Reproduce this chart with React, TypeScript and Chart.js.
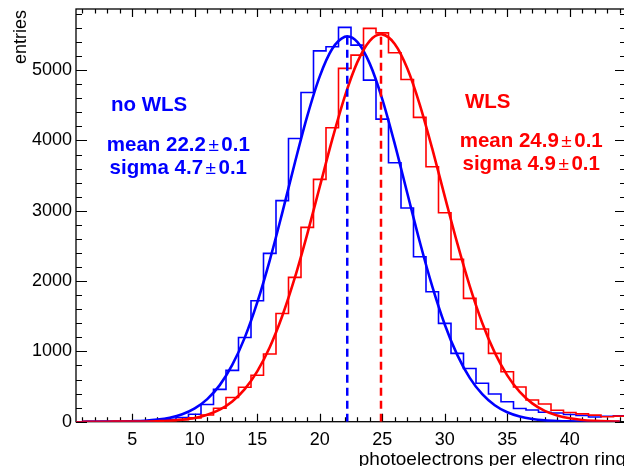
import React, { useEffect, useRef } from "react";
import { Chart, registerables } from "chart.js";

Chart.register(...registerables);

// ---- data ----
const binCenters = [1, 2, 3, 4, 5, 6, 7, 8, 9, 10, 11, 12, 13, 14, 15, 16, 17, 18, 19, 20, 21, 22, 23, 24, 25, 26, 27, 28, 29, 30, 31, 32, 33, 34, 35, 36, 37, 38, 39, 40, 41, 42, 43, 44];
const noWlsCounts = [0, 0, 1, 2, 4, 8, 15, 34, 60, 107, 245, 460, 730, 1197, 1721, 2394, 3145, 4029, 4683, 5275, 5332, 5608, 5356, 4858, 4304, 3683, 3040, 2346, 1848, 1399, 972, 756, 546, 395, 284, 188, 166, 135, 124, 102, 88, 66, 78, 85];
const wlsCounts = [0, 0, 0, 1, 2, 4, 8, 15, 28, 55, 95, 192, 345, 490, 660, 963, 1540, 2053, 2764, 3446, 4180, 5025, 5214, 5594, 5531, 5247, 4868, 4328, 3626, 2972, 2309, 1754, 1318, 972, 711, 494, 308, 252, 162, 130, 112, 93, 71, 80];

const fitX = [1, 2, 3, 4, 5, 6, 7, 8, 9, 10, 11, 12, 13, 14, 15, 16, 17, 18, 19, 20, 21, 22, 23, 24, 25, 26, 27, 28, 29, 30, 31, 32, 33, 34, 35, 36, 37, 38, 39, 40, 41, 42, 43, 44];
const noWlsFit = [0, 1, 1, 3, 7, 14, 29, 57, 106, 189, 321, 520, 807, 1196, 1696, 2296, 2971, 3676, 4346, 4912, 5304, 5475, 5401, 5093, 4589, 3952, 3253, 2559, 1924, 1383, 950, 623, 391, 234, 134, 74, 39, 19, 9, 4, 2, 1, 0, 0];
const wlsFit = [0, 0, 0, 1, 1, 3, 7, 14, 29, 54, 99, 172, 289, 464, 716, 1059, 1503, 2044, 2669, 3342, 4015, 4625, 5111, 5418, 5509, 5373, 5027, 4511, 3883, 3206, 2539, 1929, 1405, 982, 659, 424, 261, 154, 88, 48, 25, 13, 6, 3];

const noWlsMean = 22.2;
const noWlsMeanErr = 0.1;
const noWlsSigma = 4.7;
const noWlsSigmaErr = 0.1;
const noWlsPeak = 5480;

const wlsMean = 24.9;
const wlsMeanErr = 0.1;
const wlsSigma = 4.9;
const wlsSigmaErr = 0.1;
const wlsPeak = 5510;

const xTickLabels = [5, 10, 15, 20, 25, 30, 35, 40];
const yTickLabels = [0, 1000, 2000, 3000, 4000, 5000];

const X_MIN = 0.5;
const X_MAX = 44.5;
const Y_MAX = 5870;

const BLUE = "#0000ff";
const RED = "#ff0000";
const FAMILY = '"Liberation Sans", Arial, Helvetica, sans-serif';

// histogram outline: left edges + closing right edge
function histPoints(centers: number[], counts: number[]) {
  const pts = centers.map((c, i) => ({ x: c - 0.5, y: counts[i] }));
  const last = centers.length - 1;
  pts.push({ x: centers[last] + 0.5, y: counts[last] });
  return pts;
}

function fitPoints(xs: number[], ys: number[], mean: number, peak: number) {
  const pts = xs.map((x, i) => ({ x, y: ys[i] }));
  pts.push({ x: mean, y: peak });
  pts.sort((a, b) => a.x - b.x);
  return pts;
}

function statRow(
  ctx: CanvasRenderingContext2D,
  label: string,
  value: number,
  err: number,
  cx: number,
  baseline: number,
  color: string
) {
  const bold = `bold 20.5px ${FAMILY}`;
  const pm = `19px ${FAMILY}`;
  const t1 = `${label} ${value.toFixed(1)}`;
  const t3 = err.toFixed(1);
  ctx.font = bold;
  const w1 = ctx.measureText(t1).width;
  const w3 = ctx.measureText(t3).width;
  ctx.font = pm;
  const w2 = ctx.measureText("\u00b1").width;
  const gap = 2.5;
  const total = w1 + gap + w2 + gap + w3;
  let x0 = cx - total / 2;
  ctx.fillStyle = color;
  ctx.textAlign = "left";
  ctx.textBaseline = "alphabetic";
  ctx.font = bold;
  ctx.fillText(t1, x0, baseline);
  x0 += w1 + gap;
  ctx.font = pm;
  ctx.fillText("\u00b1", x0, baseline);
  x0 += w2 + gap;
  ctx.font = bold;
  ctx.fillText(t3, x0, baseline);
}

const decorPlugin = {
  id: "decor",
  beforeDatasetsDraw(chart: any) {
    const { ctx, chartArea: a, scales } = chart;
    const x = scales.x;
    const y = scales.y;
    ctx.save();
    ctx.strokeStyle = "#000";
    ctx.lineWidth = 1.2;
    ctx.beginPath();
    // x ticks (top & bottom, inward)
    for (let v = Math.ceil(X_MIN); v <= X_MAX; v += 1) {
      const px = Math.round(x.getPixelForValue(v)) + 0.5;
      const len = v % 5 === 0 ? 8 : 4.5;
      ctx.moveTo(px, a.bottom);
      ctx.lineTo(px, a.bottom - len);
      ctx.moveTo(px, a.top);
      ctx.lineTo(px, a.top + len);
    }
    // y ticks (left & right, inward)
    for (let v = 0; v <= Y_MAX; v += 200) {
      const py = Math.round(y.getPixelForValue(v)) + 0.5;
      const len = v % 1000 === 0 ? 11 : 6;
      ctx.moveTo(a.left, py);
      ctx.lineTo(a.left + len, py);
      ctx.moveTo(a.right, py);
      ctx.lineTo(a.right - len, py);
    }
    ctx.stroke();
    ctx.lineWidth = 1.3;
    ctx.strokeRect(a.left, a.top, a.right - a.left, a.bottom - a.top);
    ctx.restore();
  },
  afterDraw(chart: any) {
    const { ctx, chartArea: a } = chart;
    ctx.save();
    // axis titles
    ctx.fillStyle = "#000";
    ctx.font = `19px ${FAMILY}`;
    ctx.textAlign = "right";
    ctx.textBaseline = "alphabetic";
    ctx.fillText("photoelectrons per electron ring", a.right, 464.5);

    ctx.save();
    ctx.translate(25.5, a.top + 1);
    ctx.rotate(-Math.PI / 2);
    ctx.font = `18px ${FAMILY}`;
    ctx.textAlign = "right";
    ctx.fillText("entries", 0, 0);
    ctx.restore();

    // annotations
    ctx.textAlign = "left";
    ctx.font = `bold 20.5px ${FAMILY}`;
    ctx.fillStyle = BLUE;
    ctx.fillText("no WLS", 111, 110.7);
    statRow(ctx, "mean", noWlsMean, noWlsMeanErr, 178.3, 151, BLUE);
    statRow(ctx, "sigma", noWlsSigma, noWlsSigmaErr, 178.3, 174.3, BLUE);

    ctx.textAlign = "left";
    ctx.font = `bold 20.5px ${FAMILY}`;
    ctx.fillStyle = RED;
    ctx.fillText("WLS", 465, 108);
    statRow(ctx, "mean", wlsMean, wlsMeanErr, 531.2, 146.7, RED);
    statRow(ctx, "sigma", wlsSigma, wlsSigmaErr, 531.2, 170, RED);
    ctx.restore();
  },
};

export default function App() {
  const canvasRef = useRef<HTMLCanvasElement | null>(null);

  useEffect(() => {
    const canvas = canvasRef.current;
    if (!canvas) return;
    const tickFont = { family: FAMILY, size: 18 };
    const chart = new Chart(canvas, {
      type: "line",
      data: {
        datasets: [
          {
            label: "no WLS",
            data: histPoints(binCenters, noWlsCounts),
            borderColor: BLUE,
            borderWidth: 1.6,
            stepped: "before",
            pointRadius: 0,
            fill: false,
            order: 5,
          },
          {
            label: "WLS",
            data: histPoints(binCenters, wlsCounts),
            borderColor: RED,
            borderWidth: 1.6,
            stepped: "before",
            pointRadius: 0,
            fill: false,
            order: 4,
          },
          {
            label: "no WLS fit",
            data: fitPoints(fitX, noWlsFit, noWlsMean, noWlsPeak),
            borderColor: BLUE,
            borderWidth: 2.6,
            cubicInterpolationMode: "monotone",
            pointRadius: 0,
            fill: false,
            order: 3,
          },
          {
            label: "WLS fit",
            data: fitPoints(fitX, wlsFit, wlsMean, wlsPeak),
            borderColor: RED,
            borderWidth: 2.6,
            cubicInterpolationMode: "monotone",
            pointRadius: 0,
            fill: false,
            order: 2,
          },
          {
            label: "no WLS mean",
            data: [
              { x: noWlsMean, y: 0 },
              { x: noWlsMean, y: noWlsPeak },
            ],
            borderColor: BLUE,
            borderWidth: 2.5,
            borderDash: [8, 5],
            pointRadius: 0,
            fill: false,
            order: 1,
          },
          {
            label: "WLS mean",
            data: [
              { x: wlsMean, y: 0 },
              { x: wlsMean, y: wlsPeak },
            ],
            borderColor: RED,
            borderWidth: 2.5,
            borderDash: [8, 5],
            pointRadius: 0,
            fill: false,
            order: 0,
          },
        ],
      },
      options: {
        responsive: false,
        animation: false,
        events: [],
        layout: { padding: { left: 0, top: 9, right: 14, bottom: 0 } },
        plugins: {
          legend: { display: false },
          tooltip: { enabled: false },
          title: { display: false },
        },
        scales: {
          x: {
            type: "linear",
            min: X_MIN,
            max: X_MAX,
            grid: { display: false, drawTicks: false },
            border: { display: false },
            afterBuildTicks: (s: any) => {
              s.ticks = xTickLabels.map((v) => ({ value: v }));
            },
            afterFit: (s: any) => {
              s.height = 44.3;
              s.paddingLeft = 0;
              s.paddingRight = 0;
            },
            ticks: {
              font: tickFont,
              color: "#000",
              padding: 8,
              maxRotation: 0,
              autoSkip: false,
              callback: (v: any) => String(v),
            },
          },
          y: {
            type: "linear",
            min: 0,
            max: Y_MAX,
            grid: { display: false, drawTicks: false },
            border: { display: false },
            afterBuildTicks: (s: any) => {
              s.ticks = yTickLabels.map((v) => ({ value: v }));
            },
            afterFit: (s: any) => {
              s.width = 76;
              s.paddingTop = 0;
              s.paddingBottom = 0;
            },
            ticks: {
              font: tickFont,
              color: "#000",
              padding: 4,
              autoSkip: false,
              callback: (v: any) => String(v),
            },
          },
        },
      },
      plugins: [decorPlugin],
    });
    return () => chart.destroy();
  }, []);

  return (
    <div
      style={{
        position: "fixed",
        left: 0,
        top: 0,
        width: 624,
        height: 466,
        overflow: "hidden",
        background: "#fff",
      }}
    >
      <canvas ref={canvasRef} width={640} height={466} style={{ display: "block", width: 640, height: 466 }} />
    </div>
  );
}
